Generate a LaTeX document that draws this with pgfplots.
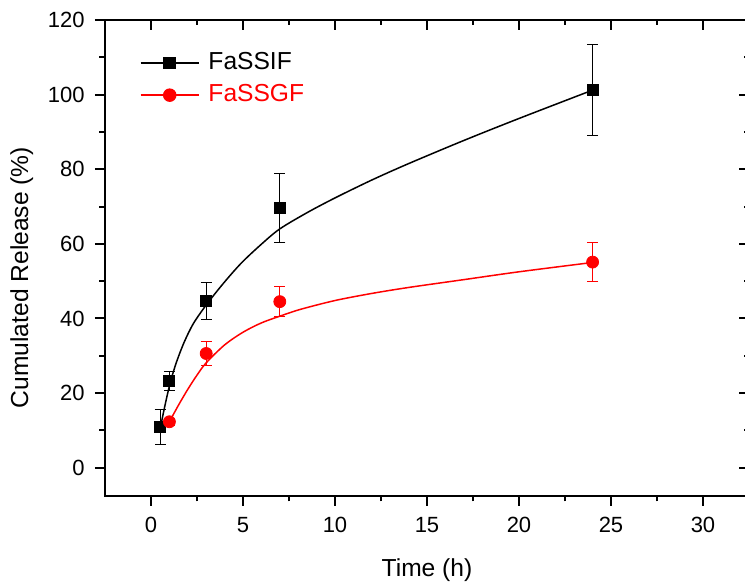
\documentclass[border=0pt]{standalone}
\usepackage{pgfplots}
\pgfplotsset{compat=1.18}
\usepackage{pgfplotstable}
\usepackage{fontspec}
\setmainfont{Liberation Sans}

\pgfplotstableread{
x     y      e
0.5   10.8   4.7
1     23.2   2.6
3     44.7   5.0
7     69.6   9.3
24    101.2  12.1
}\fassif

\pgfplotstableread{
x     y      e
1     12.3   1.0
3     30.6   3.1
7     44.5   4.0
24    55.1   5.2
}\fassgf

\pgfplotstableread{
x     y
0.5   10.5
0.7   15.3
0.9   19.8
1.1   23.8
1.4   28.5
1.8   33.6
2.3   38.6
3     43.6
3.9   49.2
4.9   54.8
6     59.9
7     64.0
8.5   68.4
10    72.3
12    77.1
14    81.5
17    87.7
20    93.6
24    101.2
}\fassifcurve

\pgfplotstableread{
x     y
1     12.3
1.5   16.8
2     21.0
2.5   24.8
3     28.1
4     32.9
5     36.3
6     38.8
7     40.6
8.1   42.4
10    44.8
12    46.7
14    48.3
17    50.4
20    52.5
24    55.0
}\fassgfcurve

\begin{document}
\begin{tikzpicture}
\pgfplotsset{
  common/.style={
    width=322pt, height=238pt, scale only axis,
    at={(0,0)}, anchor=south west,
    xmin=-2.5, xmax=32.5, ymin=-7.6, ymax=120,
    xtick={0,5,...,30}, ytick={0,20,...,120},
    minor x tick num=1, minor y tick num=1,
    major tick length=5pt, minor tick length=2.75pt,
    axis line style={line width=1pt},
    every tick/.style={line width=1pt, black},
  }
}
\begin{axis}[common,
  tick align=outside, xtick pos=left, ytick pos=left,
  /pgf/number format/assume math mode=true,
  tick label style={font=\fontsize{11}{13}\selectfont},
  xticklabel style={anchor=base, inner sep=0pt, yshift=-13.5pt},
  yticklabel style={anchor=east, inner sep=0pt, xshift=-5pt},
  xlabel={Time (h)},
  ylabel={Cumulated Release (\%)},
  label style={font=\fontsize{12.3}{14}\selectfont},
  xlabel style={at={(axis description cs:0.5,-0.1697)}, anchor=base, inner sep=0pt},
  ylabel style={at={(axis description cs:-0.1193,0.459)}, anchor=base, inner sep=0pt},
  legend image code/.code={\draw[mark repeat=2,mark phase=2,#1] plot coordinates {(0pt,0pt) (14.5pt,0pt) (29pt,0pt)};},
  legend style={draw=none, fill=none, inner sep=0pt, outer sep=0pt,
    at={(axis description cs:0.0543,0.8757)}, anchor=west,
    font=\fontsize{12.3}{14}\selectfont, row sep=4pt, column sep=4.5pt,
    nodes={inner sep=0pt, text height=9pt, text depth=3pt}},
  legend cell align=left,
]
\addlegendimage{black, line width=0.75pt, mark=square*, mark size=2.75pt}
\addlegendentry{FaSSIF}
\addlegendimage{red, line width=0.75pt, mark=*, mark size=3pt}
\addlegendentry{\textcolor{red}{FaSSGF}}

\addplot[forget plot, black, line width=0.75pt, smooth, no marks] table[x=x, y=y] {\fassifcurve};
\addplot[forget plot, red, line width=0.75pt, smooth, no marks] table[x=x, y=y] {\fassgfcurve};

\addplot[forget plot, black, only marks, mark=square*, mark size=2.75pt,
  error bars/.cd, y dir=both, y explicit,
  error bar style={line width=0.5pt, black},
  error mark options={rotate=90, mark size=2.75pt, line width=0.5pt, black}]
  table[x=x, y=y, y error=e] {\fassif};
\addplot[forget plot, red, only marks, mark=*, mark size=3pt,
  error bars/.cd, y dir=both, y explicit,
  error bar style={line width=0.5pt, red},
  error mark options={rotate=90, mark size=2.75pt, line width=0.5pt, red}]
  table[x=x, y=y, y error=e] {\fassgf};
\end{axis}
\begin{axis}[common,
  tick align=inside, xtick pos=right, ytick pos=right,
  xticklabels={}, yticklabels={},
]
\end{axis}
\pgfresetboundingbox
\useasboundingbox (-52.5pt,-43.5pt) rectangle (320pt,248pt);
\end{tikzpicture}
\end{document}
